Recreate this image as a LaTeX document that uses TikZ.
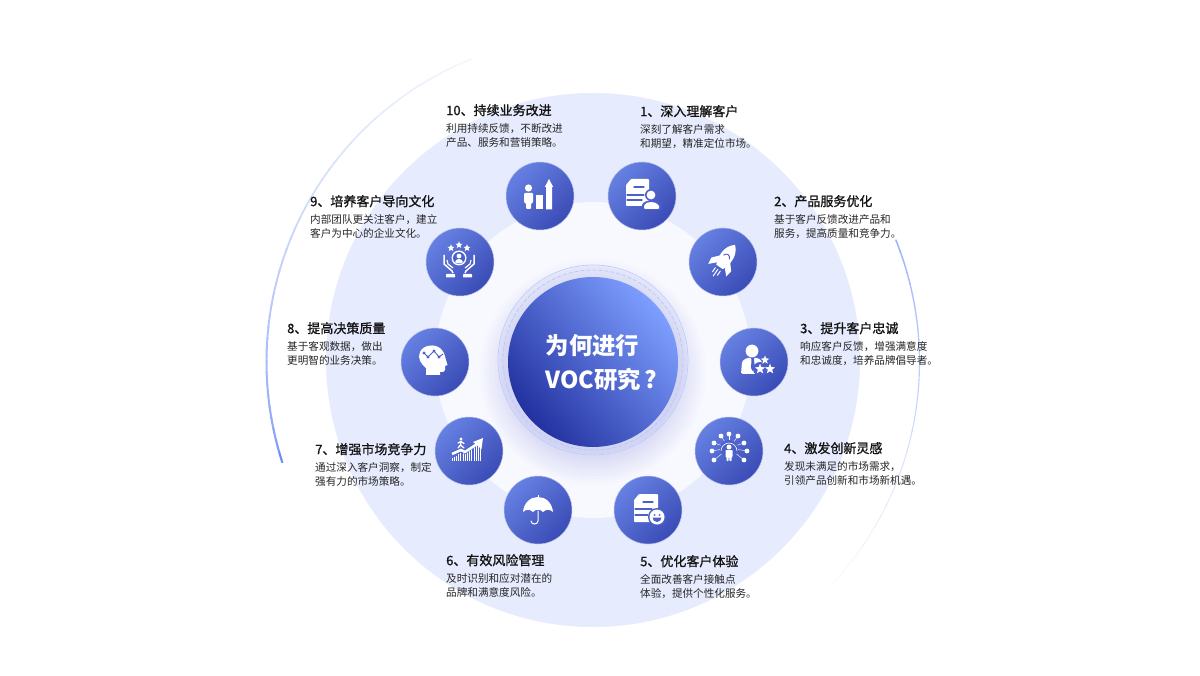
\documentclass[tikz,border=0pt]{standalone}
\usepackage{fontspec}
\setmainfont{Noto Sans CJK SC}
\newfontfamily\ttlfont[FakeBold=1.1]{Noto Sans CJK SC}
\usetikzlibrary{positioning,shadings}
\definecolor{bigdisc}{HTML}{E6EBFD}
\definecolor{innerdisc}{HTML}{F8F9FF}
\definecolor{arcblue}{HTML}{6C8DF8}
\definecolor{ballblue}{HTML}{4C60C9}
\definecolor{balltop}{HTML}{6680E2}
\definecolor{ballend}{HTML}{3A4CB6}
\definecolor{ringblue}{HTML}{BCCBFB}
\definecolor{voclight}{HTML}{7E9FFF}
\definecolor{vocdark}{HTML}{2231A0}
\tikzset{
  ball/.style={circle,minimum size=68pt,inner sep=0pt,top color=balltop,bottom color=ballend,shading angle=45,draw=ballblue!40!white,line width=.5pt},
  ttl/.style={anchor=west,inner sep=0pt,text=black!92,font=\fontsize{13}{15}\ttlfont},
  desc/.style={anchor=north west,inner sep=0pt,align=left,text=black!85,font=\fontsize{10.6}{13.8}\selectfont},
  cut/.style={draw=ballblue,line width=#1,line cap=round},
  cut/.default=1.2pt
}
% small star for the icons
\newcommand{\iconstar}[3]{\fill[white] ([shift={(#1,#2)}]-90:#3)
  \foreach \a/\r in {-54/.42,-18/1,18/.42,54/1,90/.42,126/1,162/.42,198/1,234/.42}{ -- ([shift={(#1,#2)}]\a:\r*#3)} -- cycle;}
\begin{document}
\begin{tikzpicture}[x=1pt,y=-1pt]
  \useasboundingbox (0,0) rectangle (1200,676);
  \fill[white] (0,0) rectangle (1200,676);
  \coordinate (c) at (593,362);
  \coordinate (r) at (593,360);
  % outer arcs
  \foreach \a in {162,164,...,246}{
    \pgfmathsetmacro{\t}{(\a-162)/84}
    \pgfmathsetmacro{\p}{100-92*sqrt(\t)}
    \pgfmathsetmacro{\w}{2.1-.7*\t}
    \draw[arcblue!\p!white,line width=\w pt] ([shift={(c)}]\a:326.5) arc[start angle=\a,end angle=\a+2.3,radius=326.5];
  }
  \foreach \a in {-22,-20,...,42}{
    \pgfmathsetmacro{\t}{(\a+22)/64}
    \pgfmathsetmacro{\p}{65-60*\t}
    \pgfmathsetmacro{\w}{1.5-1.1*\t}
    \draw[arcblue!\p!white,line width=\w pt] ([shift={(c)}]\a:326.5) arc[start angle=\a,end angle=\a+2.3,radius=326.5];
  }
  % discs
  \fill[bigdisc] (593,360) circle (267pt);
  \fill[innerdisc] (593,360) circle (158pt);
  % shadow of the middle ball
  \foreach \s in {86,89,...,113}{
    \fill[ballblue,opacity=.014] (593,372) circle (\s pt);
  }
  \fill[ballblue,opacity=.06] (r) circle (94pt);
  \draw[ringblue,line width=.7pt] (r) circle (95pt);
  \draw[ringblue,line width=.8pt,dash pattern=on 4pt off 2pt] (r) circle (90pt);
  \node[circle,minimum size=170pt,inner sep=0pt,top color=voclight,bottom color=vocdark,shading angle=-50] (voc) at (c) {};
  \node[anchor=west,align=left,inner sep=0pt,text=white,font=\fontsize{23.4}{34}\selectfont\bfseries] (voctxt) at (545.5,363) {为何进行\\VOC研究\hspace{3.5pt}?};
  % small balls
  \foreach \n/\x/\y in {b1/642/196,b2/723/262,b3/754/362,b4/729/451,b5/648/510,b6/538/510,b7/469/451,b8/435/362,b9/460/262,b10/540/196}{
    \node[ball] (\n) at (\x,\y) {};
  }
  % texts
  \foreach \n/\x/\y/\h/\la/\lb in {
    1/640/111/1、深入理解客户/深刻了解客户需求/和期望，精准定位市场。,
    2/774/201/2、产品服务优化/基于客户反馈改进产品和/服务，提高质量和竞争力。,
    3/800/328/3、提升客户忠诚/响应客户反馈，增强满意度/和忠诚度，培养品牌倡导者。,
    4/784/448/4、激发创新灵感/发现未满足的市场需求，/引领产品创新和市场新机遇。,
    5/640/561/5、优化客户体验/全面改善客户接触点/体验，提供个性化服务。,
    6/446/560/6、有效风险管理/及时识别和应对潜在的/品牌和满意度风险。,
    7/315/449/7、增强市场竞争力/通过深入客户洞察，制定/强有力的市场策略。,
    8/287/328/8、提高决策质量/基于客观数据，做出/更明智的业务决策。,
    9/310/201/9、培养客户导向文化/内部团队更关注客户，建立/客户为中心的企业文化。,
    10/446/110/10、持续业务改进/利用持续反馈，不断改进/产品、服务和营销策略。}{
    \node[ttl] (t\n) at (\x,\y+.2) {\h};
    \node[desc] (d\n) at (\x,\y+13.2) {\la\\\lb};
  }
  % icon 1: document and person
  \begin{scope}[shift={(b1)}]
    \fill[white,rounded corners=.8pt] (-11,-17) -- (7,-17) -- (7,10) -- (-16,10) -- (-16,-11) -- cycle;
    \draw[cut] (-8,-9) -- (2,-9);
    \draw[cut] (-15,-1) -- (2,-1);
    \draw[cut] (-15,4) -- (0,4);
    \fill[ballblue] (9,-1) circle (6pt);
    \fill[ballblue] (0,14) -- (0,9) .. controls (2,3) and (16,3) .. (19,9) -- (19,14) -- cycle;
    \fill[white] (9,-1) circle (4.4pt);
    \fill[white,rounded corners=1pt] (2,13) -- (2,10) .. controls (4,5) and (14,5) .. (17,10) -- (17,13) -- cycle;
  \end{scope}
  % icon 2: rocket
  \begin{scope}[shift={(b2)},rotate=-35]
    \fill[white] (0,-21) .. controls (-8,-14) and (-8,-4) .. (-4,6) -- (4,6) .. controls (8,-4) and (8,-14) .. (0,-21);
    \fill[white] (-6,-4) -- (-12,3) -- (-11,10) -- (-5,4) -- cycle;
    \fill[white] (6,-4) -- (12,3) -- (11,10) -- (5,4) -- cycle;
    \draw[cut=.9pt] (-3.5,-6) .. controls (-2,-10) and (2,-10) .. (3.5,-6);
    \draw[white,line width=1pt,line cap=round] (-3,9) -- (-3,14) (0,9) -- (0,17) (3,9) -- (3,14);
  \end{scope}
  % icon 3: person and stars
  \begin{scope}[shift={(b3)}]
    \fill[white] (-2,-11) circle (6.4pt);
    \fill[white,rounded corners=1.5pt] (-13,12) -- (-12,0) .. controls (-10,-3) and (-7,-4) .. (-4,-4) -- (1,-4) .. controls (4,-4) and (8,-2) .. (8,3) -- (9,12) -- cycle;
    \fill[ballblue] (-3,-4) -- (0,-4) -- (0,-2) -- (1,6) -- (-1.5,9) -- (-3,6) -- (-2.5,-2) -- cycle;
    \fill[ballblue] (6,7) circle (7pt);
    \iconstar{11}{-2}{4.6}
    \iconstar{6}{7}{5.4}
    \iconstar{16}{7}{5.4}
  \end{scope}
  % icon 4: person and ideas
  \begin{scope}[shift={(b4)}]
    \foreach \p in {(0,-17),(-8,-15),(9,-15),(-15,-8),(15,-8),(-17,0),(18,0),(-15,9),(15,9)}{
      \fill[white] \p circle (2.4pt);
      \draw[white,line width=.4pt] (0,-3) -- \p;
    }
    \fill[ballblue] (0,-2) circle (9pt);
    \draw[white,line width=.6pt] (-8,0) arc[start angle=180,end angle=360,radius=8] ;
    \fill[white] (0,-4) circle (2.5pt);
    \fill[white,rounded corners=.6pt] (-3.5,-1) -- (3.5,-1) -- (3.5,6) -- (2.5,6) -- (2.5,10) -- (.5,10) -- (.3,6) -- (-.3,6) -- (-.5,10) -- (-2.5,10) -- (-2.5,6) -- (-3.5,6) -- cycle;
  \end{scope}
  % icon 5: document and smile
  \begin{scope}[shift={(b5)}]
    \fill[white,rounded corners=.8pt] (-9,-16) -- (10,-16) -- (10,12) -- (-14,12) -- (-14,-10) -- cycle;
    \draw[cut] (-5,-8) -- (5,-8);
    \draw[cut] (-13,-1) -- (4,-1);
    \draw[cut] (-13,5) -- (0,5);
    \fill[ballblue] (9,7) circle (9pt);
    \fill[white] (9,7) circle (7.5pt);
    \fill[ballblue] (6.5,5) circle (1pt) (11.5,5) circle (1pt);
    \fill[ballblue] (4.5,7.5) arc[start angle=180,end angle=0,radius=4.5] -- cycle;
  \end{scope}
  % icon 6: umbrella
  \begin{scope}[shift={(b6)}]
    \draw[white,line width=1pt] (0,-15) -- (0,-12);
    \fill[white] (-15,2) .. controls (-14,-8) and (-7,-13) .. (0,-13) .. controls (7,-13) and (14,-8) .. (15,2)
      .. controls (12,-1) and (8,-1) .. (5,2) .. controls (3,-1) and (-3,-1) .. (-5,2) .. controls (-8,-1) and (-12,-1) .. (-15,2);
    \draw[white,line width=1pt,line cap=round] (0,1) -- (0,11) .. controls (0,15) and (-7,15) .. (-7,11);
  \end{scope}
  % icon 7: bars, arrow and runner
  \begin{scope}[shift={(b7)}]
    \foreach \k in {0,...,13}{
      \draw[white,line width=.8pt] (-17+\k*2.2,10) -- (-17+\k*2.2,7-\k*1.2);
    }
    \draw[ballblue,line width=4pt] (-17,3) -- (-8,-1) -- (-4,1) -- (8,-8);
    \draw[white,line width=2.6pt] (-17,3) -- (-8,-1) -- (-4,1) -- (8,-7);
    \fill[white] (14,-13) -- (12.5,-2) -- (4,-9) -- cycle;
    \fill[white] (-8,-12) circle (1.7pt);
    \draw[white,line width=1.3pt,line cap=round] (-8,-10) -- (-8.5,-6) -- (-11,-3) (-8.5,-6) -- (-5,-3) (-11,-8) -- (-8,-9.5) -- (-5,-7.5);
  \end{scope}
  % icon 8: head with graph
  \begin{scope}[shift={(b8)}]
    \fill[white] (-9,13) -- (-9,6) .. controls (-14,2) and (-18,-4) .. (-15,-10) .. controls (-12,-17) and (0,-19) .. (6,-13)
      .. controls (10,-9) and (10,-5) .. (11,-2) -- (12.5,3) -- (10,4) -- (10,8) .. controls (10,10) and (7,10) .. (5,10) -- (5,13) -- cycle;
    \draw[ballblue,line width=.9pt] (-11,-9) -- (-7,-5) -- (-1,-11) -- (4,-5) -- (8,-8);
    \foreach \p in {(-11,-9),(-7,-5),(-1,-11),(4,-5)}{
      \fill[ballblue] \p circle (1.6pt);
    }
  \end{scope}
  % icon 9: hands, stars and person
  \begin{scope}[shift={(b9)}]
    \iconstar{-9}{-14}{3.8}
    \iconstar{-1}{-17}{3.8}
    \iconstar{7}{-14}{3.8}
    \fill[white] (-1,-4) circle (7.5pt);
    \fill[ballblue] (-1,-4) circle (6pt);
    \fill[white] (-1,-6) circle (2.4pt);
    \fill[white] (-5,0) .. controls (-4,-4) and (2,-4) .. (3,0) .. controls (1,2) and (-3,2) .. (-5,0);
    \draw[white,line width=1.5pt,line join=round] (-16,-7) -- (-16,2) -- (-8,9) -- (-7,11);
    \draw[white,line width=1.2pt,line join=round] (-13,-2) -- (-12,2) -- (-7,6);
    \fill[white,rounded corners=.6pt] (-14,12) rectangle (-5,15.5);
    \draw[white,line width=1.5pt,line join=round] (14,-7) -- (14,2) -- (6,9) -- (5,11);
    \draw[white,line width=1.2pt,line join=round] (11,-2) -- (10,2) -- (5,6);
    \fill[white,rounded corners=.6pt] (3,12) rectangle (12,15.5);
  \end{scope}
  % icon 10: person, bars and arrow
  \begin{scope}[shift={(b10)}]
    \fill[white] (-11.5,-8) circle (3.6pt);
    \fill[white,rounded corners=1pt] (-16,-3) -- (-7,-3) -- (-7,7) -- (-9,7) -- (-9,13) -- (-14,13) -- (-14,7) -- (-16,7) -- cycle;
    \fill[white] (-4,-1) rectangle (3,13.5);
    \fill[white] (6,13.5) -- (6,-9) -- (4.8,-9) -- (9,-17) -- (13.2,-9) -- (12,-9) -- (12,13.5) -- cycle;
  \end{scope}
\end{tikzpicture}
\end{document}
